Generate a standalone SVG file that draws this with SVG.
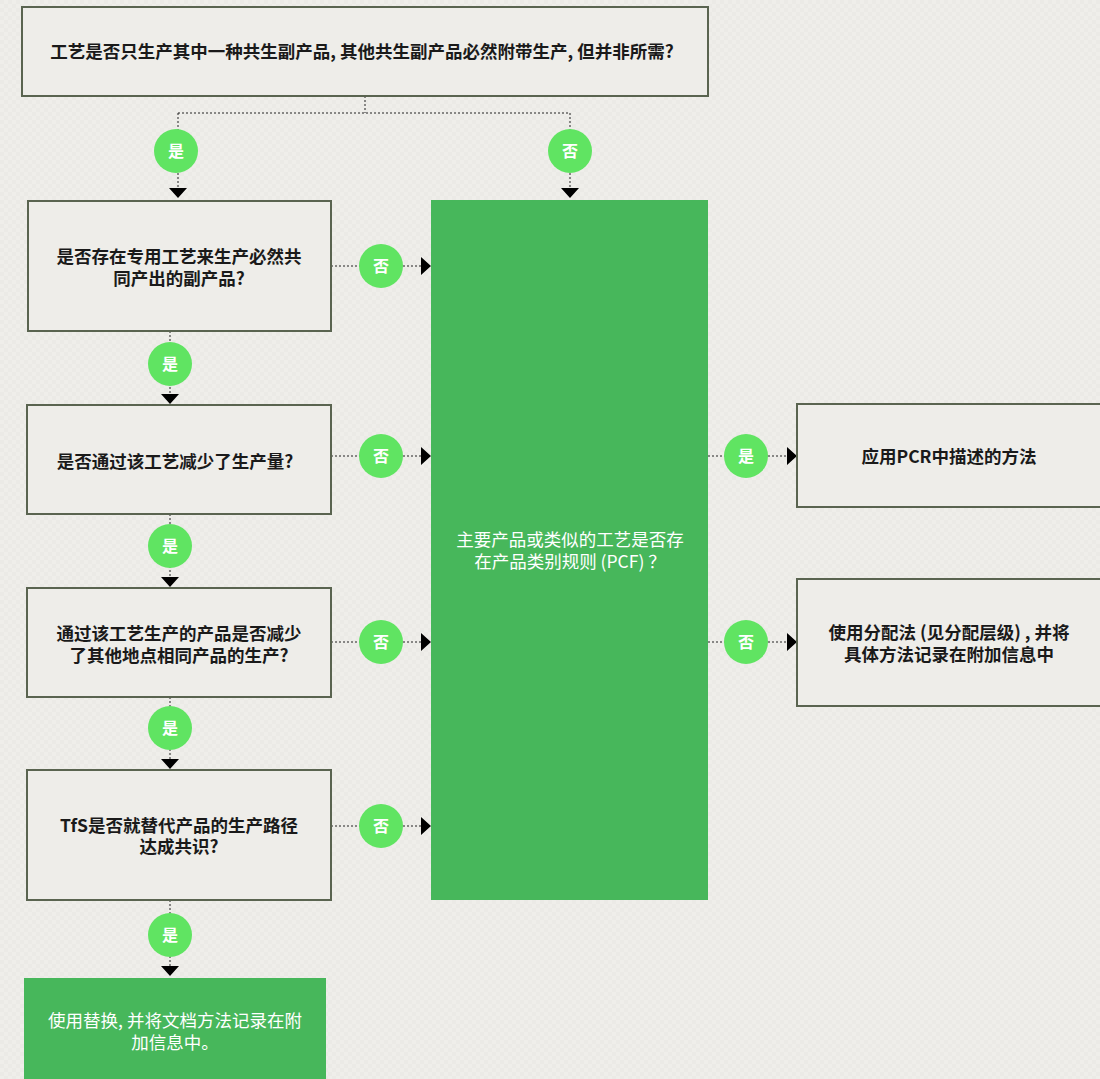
<svg xmlns="http://www.w3.org/2000/svg" width="1100" height="1079" viewBox="0 0 1100 1079">
<defs>
<style>
.box{fill:#eeede9;stroke:#5a6450;stroke-width:2}
.gbox{fill:#47b75b}
.t{font-family:"Noto Sans CJK SC","Noto Sans",sans-serif;font-size:17.5px;font-weight:bold;fill:#1a1a1a;text-anchor:middle}
.tw{font-family:"Noto Sans CJK SC","Noto Sans",sans-serif;font-size:17.5px;font-weight:normal;fill:#ffffff;text-anchor:middle}
.c{fill:#60e462}
.ct{font-family:"Noto Sans CJK SC",sans-serif;font-size:16px;font-weight:bold;fill:#ffffff;text-anchor:middle}
.ln{fill:none;stroke:#222;stroke-width:1;stroke-dasharray:2,2}
.ah{fill:#000}
</style>
<pattern id="bg" width="8" height="8" patternUnits="userSpaceOnUse">
<rect width="8" height="8" fill="#efeeea"/>
<rect width="4" height="4" fill="#ebeae6"/>
<rect x="4" y="4" width="4" height="4" fill="#ebeae6"/>
</pattern>
</defs>
<rect width="1100" height="1079" fill="url(#bg)"/>

<g id="connectors">
<path class="ln" d="M365 96 V113 M178 113 H570 M178 113 V188 M570 113 V188"/>
<path class="ln" d="M170 331 V394 M170 514 V577 M170 697 V759 M170 900 V966"/>
<path class="ln" d="M331 266 H421 M331 456 H421 M331 642 H421 M331 826 H421"/>
<path class="ln" d="M708 456 H787 M708 642 H787"/>
<path class="ah" d="M169 188 H187 L178 198 Z M561 188 H579 L570 198 Z"/>
<path class="ah" d="M161 394 H179 L170 404 Z M161 577 H179 L170 587 Z M161 759 H179 L170 769 Z M161 966 H179 L170 976 Z"/>
<path class="ah" d="M421 257 V275 L431 266 Z M421 447 V465 L431 456 Z M421 633 V651 L431 642 Z M421 817 V835 L431 826 Z"/>
<path class="ah" d="M787 447 V465 L797 456 Z M787 633 V651 L797 642 Z"/>
</g>

<g id="q1">
<rect class="box" x="22" y="7" width="686" height="89"/>
<text class="t" x="362" y="58">工艺是否只生产其中一种共生副产品, 其他共生副产品必然附带生产, 但并非所需?</text>
</g>
<g id="l1">
<circle class="c" cx="176" cy="151" r="22"/><text class="ct" x="176" y="157">是</text>
</g>
<g id="l2">
<circle class="c" cx="570" cy="151" r="22"/><text class="ct" x="570" y="157">否</text>
</g>

<g id="q2">
<rect class="box" x="28" y="201" width="303" height="130"/>
<text class="t" x="179" y="263">是否存在专用工艺来生产必然共<tspan x="179" dy="22">同产出的副产品?</tspan></text>
</g>
<g id="q3">
<rect class="box" x="27" y="405" width="304" height="109"/>
<text class="t" x="175" y="468">是否通过该工艺减少了生产量?</text>
</g>
<g id="q4">
<rect class="box" x="27" y="588" width="304" height="109"/>
<text class="t" x="179" y="640">通过该工艺生产的产品是否减少<tspan x="179" dy="22">了其他地点相同产品的生产?</tspan></text>
</g>
<g id="q5">
<rect class="box" x="27" y="770" width="304" height="130"/>
<text class="t" x="179" y="832">TfS是否就替代产品的生产路径<tspan x="179" dy="21">达成共识?</tspan></text>
</g>
<g id="r1">
<rect class="gbox" x="24" y="978" width="302" height="101"/>
<text class="tw" x="175" y="1027">使用替换, 并将文档方法记录在附<tspan x="175" dy="22">加信息中。</tspan></text>
</g>

<g id="pcf">
<rect class="gbox" x="431" y="200" width="277" height="700"/>
<text class="tw" x="570" y="546">主要产品或类似的工艺是否存<tspan x="570" dy="22">在产品类别规则 (PCF) ？</tspan></text>
</g>

<g id="r2">
<rect class="box" x="797" y="404" width="310" height="103"/>
<text class="t" x="949" y="463">应用PCR中描述的方法</text>
</g>
<g id="r3">
<rect class="box" x="797" y="579" width="310" height="127"/>
<text class="t" x="949" y="639">使用分配法 (见分配层级) , 并将<tspan x="949" dy="22">具体方法记录在附加信息中</tspan></text>
</g>

<g id="lbl-no">
<circle class="c" cx="381" cy="266" r="22"/><text class="ct" x="381" y="272">否</text>
<circle class="c" cx="381" cy="456" r="22"/><text class="ct" x="381" y="462">否</text>
<circle class="c" cx="381" cy="642" r="22"/><text class="ct" x="381" y="648">否</text>
<circle class="c" cx="381" cy="826" r="22"/><text class="ct" x="381" y="832">否</text>
<circle class="c" cx="746" cy="642" r="22"/><text class="ct" x="746" y="648">否</text>
</g>
<g id="lbl-yes">
<circle class="c" cx="170" cy="364" r="22"/><text class="ct" x="170" y="370">是</text>
<circle class="c" cx="170" cy="546" r="22"/><text class="ct" x="170" y="552">是</text>
<circle class="c" cx="170" cy="728" r="22"/><text class="ct" x="170" y="734">是</text>
<circle class="c" cx="170" cy="935" r="22"/><text class="ct" x="170" y="941">是</text>
<circle class="c" cx="746" cy="456" r="22"/><text class="ct" x="746" y="462">是</text>
</g>
</svg>
